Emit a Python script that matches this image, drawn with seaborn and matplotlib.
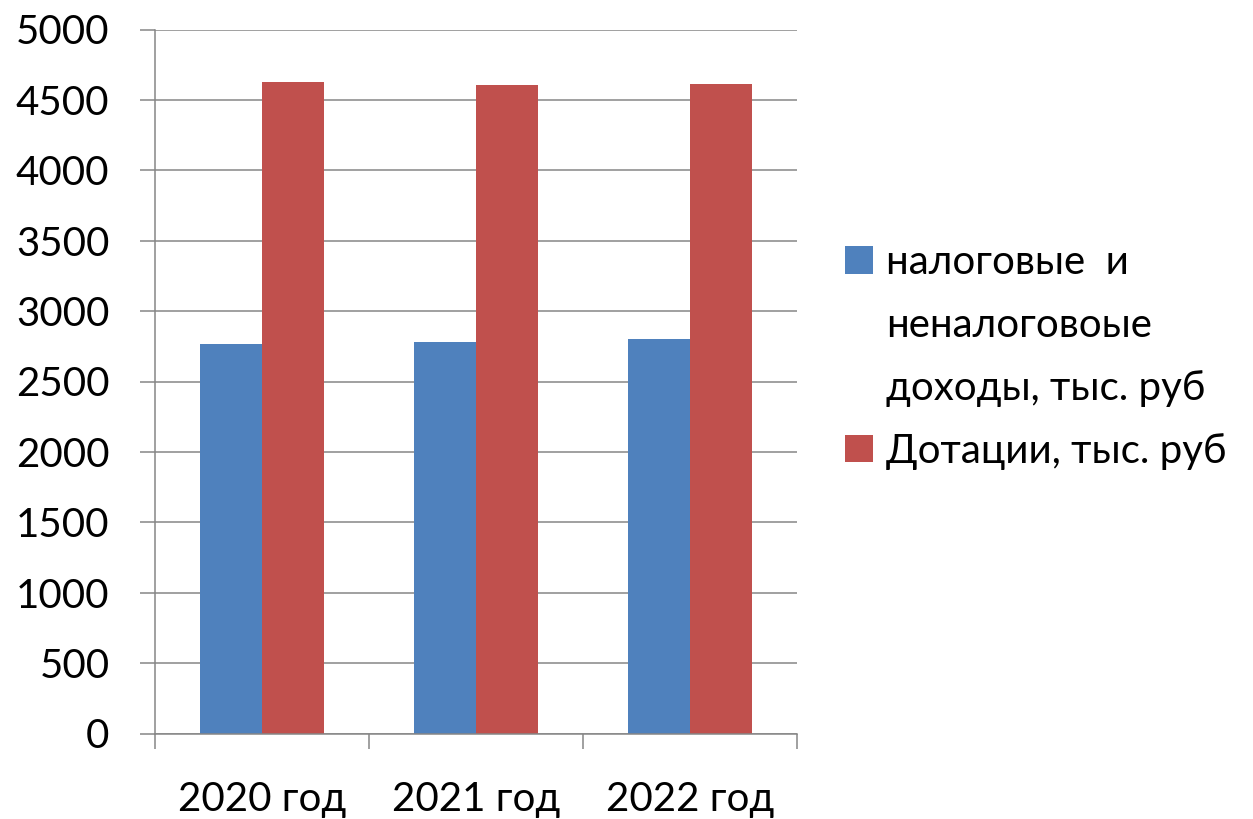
import matplotlib
matplotlib.use("Agg")
import matplotlib.pyplot as plt
from matplotlib.patches import Patch
import seaborn as sns
import pandas as pd

# data
years = ["2020 год", "2021 год", "2022 год"]
tax_income = [2765, 2783, 2802]
subsidies = [4628, 4604, 4611]
series_names = ["налоговые  и неналоговоые доходы, тыс. руб", "Дотации, тыс. руб"]
colors = ["#4F81BD", "#C0504D"]
y_ticks = list(range(0, 5001, 500))

df = pd.DataFrame({
    "year": years * 2,
    "value": tax_income + subsidies,
    "series": [series_names[0]] * 3 + [series_names[1]] * 3,
})

sns.set_style("white")
plt.rcParams["font.family"] = ["Lato", "DejaVu Sans"]
plt.rcParams["text.color"] = "black"
grid_color = "#868686"
font_size = 29

fig = plt.figure(figsize=(12.53, 8.19), dpi=100)
ax = fig.add_axes([155 / 1253, 1 - 733.5 / 819, 642 / 1253, 704 / 819])

sns.barplot(data=df, x="year", y="value", hue="series", palette=colors,
            width=0.575, linewidth=0, saturation=1, ax=ax, legend=False)

ax.set_xlim(-0.5, 2.5)
ax.set_ylim(0, 5000)
ax.set_yticks(y_ticks)
ax.set_yticklabels([str(t) for t in y_ticks])
ax.set_xlabel("")
ax.set_ylabel("")

ax.yaxis.grid(True, color=grid_color, linewidth=1.1)
ax.set_axisbelow(True)
for side in ["top", "right"]:
    ax.spines[side].set_visible(False)
for side in ["left", "bottom"]:
    ax.spines[side].set_color(grid_color)
    ax.spines[side].set_linewidth(1.1)

# category boundaries get the tick marks, labels sit in the middle
ax.set_xticks([-0.5, 0.5, 1.5, 2.5], minor=True)
ax.tick_params(axis="x", which="minor", bottom=True, length=10.8, width=1.1,
               color=grid_color, direction="out")
ax.tick_params(axis="x", which="major", bottom=True, length=0, pad=34,
               labelsize=font_size, labelcolor="black")
ax.tick_params(axis="y", which="major", length=10.8, width=1.1, color=grid_color,
               direction="out", pad=22, labelsize=font_size, labelcolor="black", left=True)

handles = [
    Patch(facecolor=colors[0], edgecolor="none"),
    Patch(facecolor="none", edgecolor="none"),
    Patch(facecolor="none", edgecolor="none"),
    Patch(facecolor=colors[1], edgecolor="none"),
]
labels = ["налоговые  и", "неналоговоые", "доходы, тыс. руб", "Дотации, тыс. руб"]
ax.legend(handles, labels, loc="center left", bbox_to_anchor=(1.075, 0.535),
          frameon=False, fontsize=font_size, handlelength=0.68, handleheight=0.68,
          handletextpad=0.33, labelspacing=0.64, borderpad=0, borderaxespad=0,
          labelcolor="black")

fig.savefig("out.png", dpi=100)
